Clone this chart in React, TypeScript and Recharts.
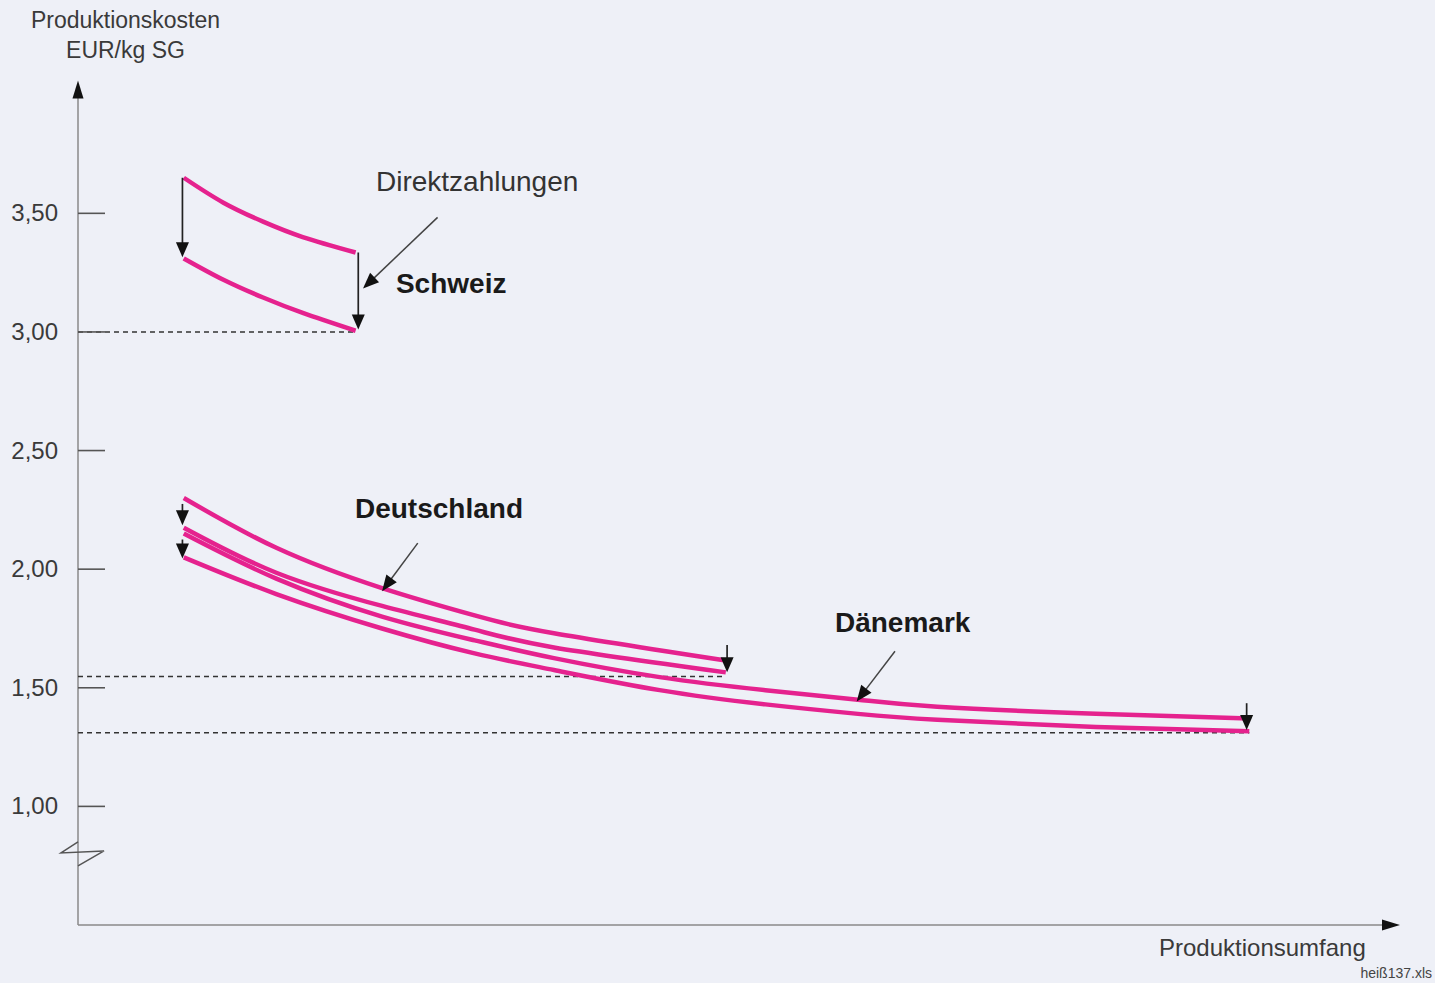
import React from 'react';
import { LineChart, Line, XAxis, YAxis, ReferenceLine, ReferenceDot } from 'recharts';

// Produktionsumfang (abstract units, 0..100) and costs in EUR/kg SG
const chX = [8, 11, 14, 17, 21];
const chWith = [3.65, 3.545, 3.465, 3.4, 3.335];
const chWithout = [3.31, 3.22, 3.145, 3.08, 3.005];

const deX = [8, 15, 23, 30, 36, 49];
const deWith = [2.3, 2.09, 1.92, 1.805, 1.73, 1.615];
const deWithout = [2.175, 1.985, 1.845, 1.745, 1.67, 1.565];

const dkX = [8, 15, 23, 30, 36, 44, 52, 59, 65, 77, 88.6];
const dkWith = [2.15, 1.96, 1.8, 1.7, 1.625, 1.545, 1.49, 1.45, 1.42, 1.39, 1.37];
const dkWithout = [2.05, 1.895, 1.75, 1.645, 1.575, 1.49, 1.43, 1.39, 1.365, 1.335, 1.317];

const yTicks = [1, 1.5, 2, 2.5, 3, 3.5];

// cost level after direct payments, drawn as dashed guide to the axis
const floors = [
  { x: 21, y: 3.0 },
  { x: 49, y: 1.548 },
  { x: 88.6, y: 1.31 },
];

// "Direktzahlungen" arrows: from cost curve down to curve after payments
const payArrows = [
  { x: 7.9, from: 3.65, to: 3.315 },
  { x: 21.2, from: 3.335, to: 3.01 },
  { x: 7.9, from: 2.275, to: 2.185 },
  { x: 7.9, from: 2.125, to: 2.045 },
  { x: 49.1, from: 1.68, to: 1.565 },
  { x: 88.4, from: 1.435, to: 1.322 },
];

const labels = [
  { text: 'Direktzahlungen', x: 22.54, y: 3.593, bold: false, px: 28, ax: 27.2, ay: 3.483, tx: 21.56, ty: 3.183 },
  { text: 'Schweiz', x: 24.05, y: 3.166, bold: true, px: 28 },
  { text: 'Deutschland', x: 20.95, y: 2.216, bold: true, px: 28, ax: 25.7, ay: 2.11, tx: 23.0, ty: 1.907 },
  { text: 'Dänemark', x: 57.26, y: 1.734, bold: true, px: 28, ax: 61.8, ay: 1.654, tx: 58.9, ty: 1.442 },
];

const PINK = '#e5228e';
const FONT = '"Liberation Sans", Arial, sans-serif';

const pts = (xs: number[], ys: number[]) => xs.map((x, i) => ({ x, y: ys[i] }));

const arrow = (head: number, width: number, stroke: string, sw: number) => (props: any) => {
  const { x1, y1, x2, y2 } = props;
  const dx = x2 - x1;
  const dy = y2 - y1;
  const len = Math.hypot(dx, dy) || 1;
  const ux = dx / len;
  const uy = dy / len;
  const bx = x2 - ux * head;
  const by = y2 - uy * head;
  const px = (-uy * width) / 2;
  const py = (ux * width) / 2;
  return (
    <g>
      <line x1={x1} y1={y1} x2={bx + ux * 2} y2={by + uy * 2} stroke={stroke} strokeWidth={sw} />
      <polygon points={`${x2},${y2} ${bx + px},${by + py} ${bx - px},${by - py}`} fill="#111" />
    </g>
  );
};

const YTick = (props: any) => {
  const { x, y, payload } = props;
  return (
    <g>
      <line x1={x} x2={x + 27} y1={y} y2={y} stroke="#555" strokeWidth={1.6} />
      <text x={x - 20} y={y + 8} textAnchor="end" fontSize={24} fill="#3a3a3a" fontFamily={FONT}>
        {payload.value.toFixed(2).replace('.', ',')}
      </text>
    </g>
  );
};

const axisBreak = (props: any) => {
  const { cx, cy } = props;
  return (
    <path
      d={`M ${cx} ${cy - 11} L ${cx - 17} ${cy} L ${cx + 26} ${cy - 2} L ${cx} ${cy + 13}`}
      fill="none"
      stroke="#555"
      strokeWidth={1.5}
    />
  );
};

const textShape = (text: string, bold: boolean, size: number) => (props: any) => (
  <text
    x={props.cx}
    y={props.cy}
    fontSize={size}
    fontWeight={bold ? 700 : 400}
    fill={bold ? '#1a1a1a' : '#333'}
    fontFamily={FONT}
  >
    {text}
  </text>
);

const series = [
  { key: 'ch1', data: pts(chX, chWith) },
  { key: 'ch2', data: pts(chX, chWithout) },
  { key: 'de1', data: pts(deX, deWith) },
  { key: 'de2', data: pts(deX, deWithout) },
  { key: 'dk1', data: pts(dkX, dkWith) },
  { key: 'dk2', data: pts(dkX, dkWithout) },
];

export default function App() {
  return (
    <div
      style={{
        position: 'absolute',
        left: 0,
        top: 0,
        width: 1435,
        height: 983,
        background: '#eef0f7',
        fontFamily: FONT,
        overflow: 'hidden',
      }}
    >
      <div style={{ position: 'absolute', left: 0, top: 5, width: 251, textAlign: 'center', fontSize: 23, lineHeight: '30px', color: '#3a3a3a' }}>
        Produktionskosten
        <br />
        EUR/kg SG
      </div>
      <div style={{ position: 'absolute', left: 1159, top: 933, fontSize: 24, lineHeight: '30px', color: '#3a3a3a' }}>
        Produktionsumfang
      </div>
      <div style={{ position: 'absolute', right: 3, top: 964, fontSize: 14, lineHeight: '18px', color: '#444' }}>
        heiß137.xls
      </div>
      <LineChart width={1435} height={983} margin={{ top: 71, right: 35, bottom: 58, left: 0 }}>
        <XAxis dataKey="x" type="number" domain={[0, 100]} hide allowDataOverflow />
        <YAxis
          type="number"
          domain={[0.5, 4.1]}
          ticks={yTicks}
          width={78}
          axisLine={false}
          tickLine={false}
          tickSize={0}
          tickMargin={0}
          tick={<YTick />}
          allowDataOverflow
        />
        {/* axes with arrow heads */}
        <ReferenceLine segment={[{ x: 0, y: 0.5 }, { x: 0, y: 4.06 }]} ifOverflow="visible" shape={arrow(18, 11, '#8a8a8a', 1.5)} />
        <ReferenceLine segment={[{ x: 0, y: 0.5 }, { x: 100, y: 0.5 }]} ifOverflow="visible" shape={arrow(18, 11, '#8a8a8a', 1.5)} />
        <ReferenceDot x={0} y={0.804} r={0} ifOverflow="visible" shape={axisBreak} />
        {floors.map((f, i) => (
          <ReferenceLine
            key={`f${i}`}
            segment={[{ x: 0, y: f.y }, { x: f.x, y: f.y }]}
            ifOverflow="visible"
            stroke="#333"
            strokeWidth={1.5}
            strokeDasharray="5 4"
          />
        ))}
        {series.map((s) => (
          <Line
            key={s.key}
            data={s.data}
            dataKey="y"
            type="natural"
            stroke={PINK}
            strokeWidth={4.5}
            dot={false}
            activeDot={false}
            isAnimationActive={false}
          />
        ))}
        {payArrows.map((a, i) => (
          <ReferenceLine
            key={`a${i}`}
            segment={[{ x: a.x, y: a.from }, { x: a.x, y: a.to }]}
            ifOverflow="visible"
            shape={arrow(15, 13, '#222', 1.7)}
          />
        ))}
        {labels
          .filter((l) => l.ax !== undefined)
          .map((l, i) => (
            <ReferenceLine
              key={`p${i}`}
              segment={[{ x: l.ax as number, y: l.ay as number }, { x: l.tx as number, y: l.ty as number }]}
              ifOverflow="visible"
              shape={arrow(16, 13, '#444', 1.5)}
            />
          ))}
        {labels.map((l, i) => (
          <ReferenceDot key={`t${i}`} x={l.x} y={l.y} r={0} ifOverflow="visible" shape={textShape(l.text, l.bold, l.px)} />
        ))}
      </LineChart>
    </div>
  );
}
